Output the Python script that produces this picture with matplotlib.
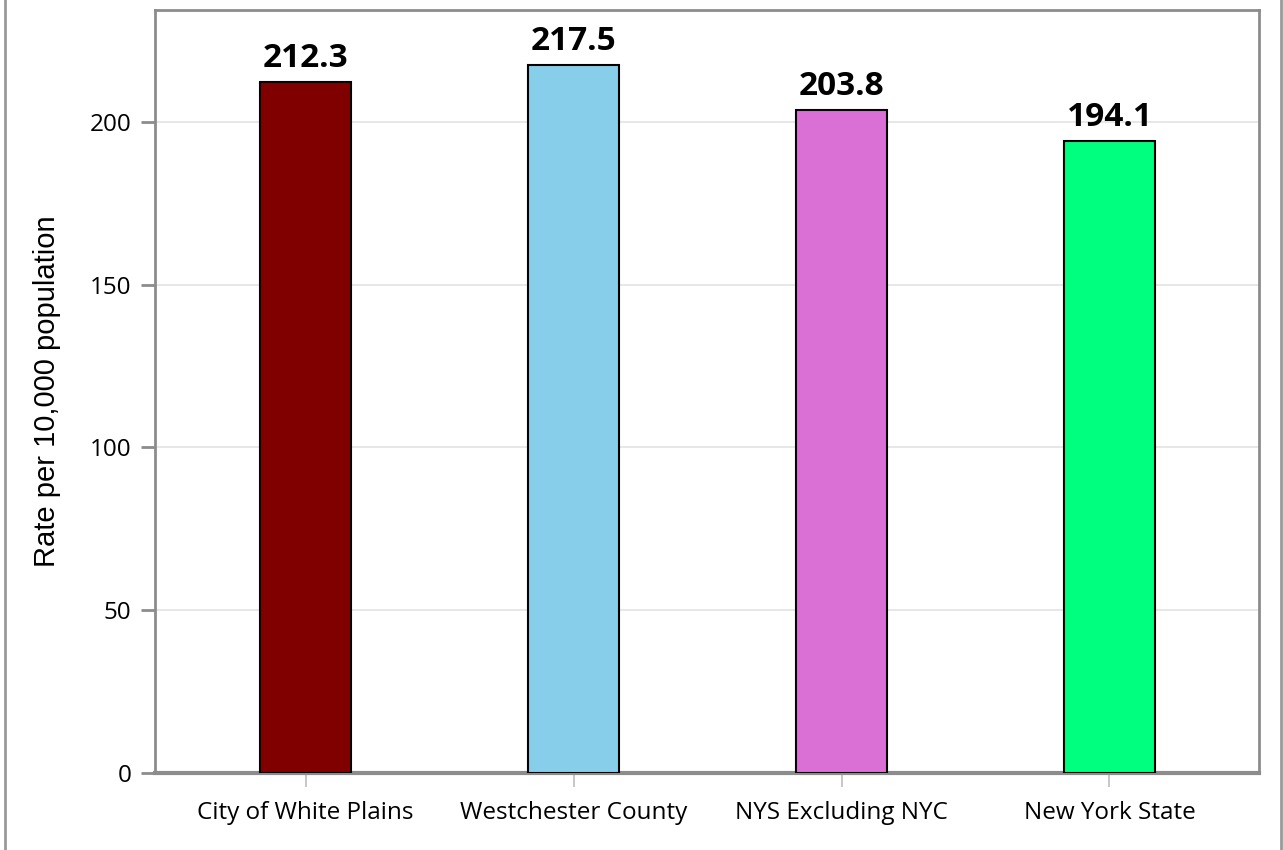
import matplotlib

matplotlib.use("Agg")
import matplotlib.pyplot as plt
from matplotlib.lines import Line2D

# --- data -----------------------------------------------------------------
CATEGORIES = ["City of White Plains", "Westchester County", "NYS Excluding NYC", "New York State"]
RATES = [212.3, 217.5, 203.8, 194.1]
COLORS = ["#800000", "#87CEEB", "#DA70D6", "#00FF7F"]
Y_TICKS = [0, 50, 100, 150, 200]

SPINE = "#8c8c8c"
GRID = "#e3e3e3"


def main():
    fig = plt.figure(figsize=(12.83, 8.5), dpi=100)
    ax = fig.add_axes([155 / 1283, 77 / 850, 1104 / 1283, 763 / 850])

    x = list(range(len(CATEGORIES)))
    ax.bar(x, RATES, width=0.34, color=COLORS, edgecolor="black", linewidth=1.5, zorder=3)

    for xi, v in zip(x, RATES):
        ax.annotate(f"{v:.1f}", (xi, v), xytext=(0, 5), textcoords="offset points",
                    ha="center", va="bottom", fontsize=24, fontweight="bold",
                    family="Open Sans", color="black", zorder=4)

    ax.set_xlim(-0.562, 3.558)
    ax.set_ylim(0, 234.4)
    ax.set_yticks(Y_TICKS)
    ax.set_xticks(x)
    ax.set_xticklabels(CATEGORIES, family="Open Sans", fontsize=17.5)

    ax.yaxis.grid(True, color=GRID, linewidth=1.2, zorder=0)
    ax.set_axisbelow(True)

    ax.tick_params(axis="y", length=10, width=2, color=SPINE, pad=7,
                   labelsize=17.5, labelfontfamily="Open Sans")
    ax.tick_params(axis="x", length=10, width=1.2, color="#bdbdbd", pad=10)

    for side in ["left", "top", "right"]:
        ax.spines[side].set_color(SPINE)
        ax.spines[side].set_linewidth(2)
    ax.spines["bottom"].set_color(SPINE)
    ax.spines["bottom"].set_linewidth(3)

    ax.set_ylabel("Rate per 10,000 population", family="Liberation Sans", fontsize=21)
    ax.yaxis.set_label_coords(-0.085, 0.5)

    # thin gray side borders of the figure
    for fx in (5 / 1283, 1281 / 1283):
        fig.add_artist(Line2D([fx, fx], [0, 1], color="#9a9a9a", linewidth=2,
                              transform=fig.transFigure))

    fig.savefig("out.png", dpi=100, facecolor="white")
    plt.close(fig)


if __name__ == "__main__":
    main()
